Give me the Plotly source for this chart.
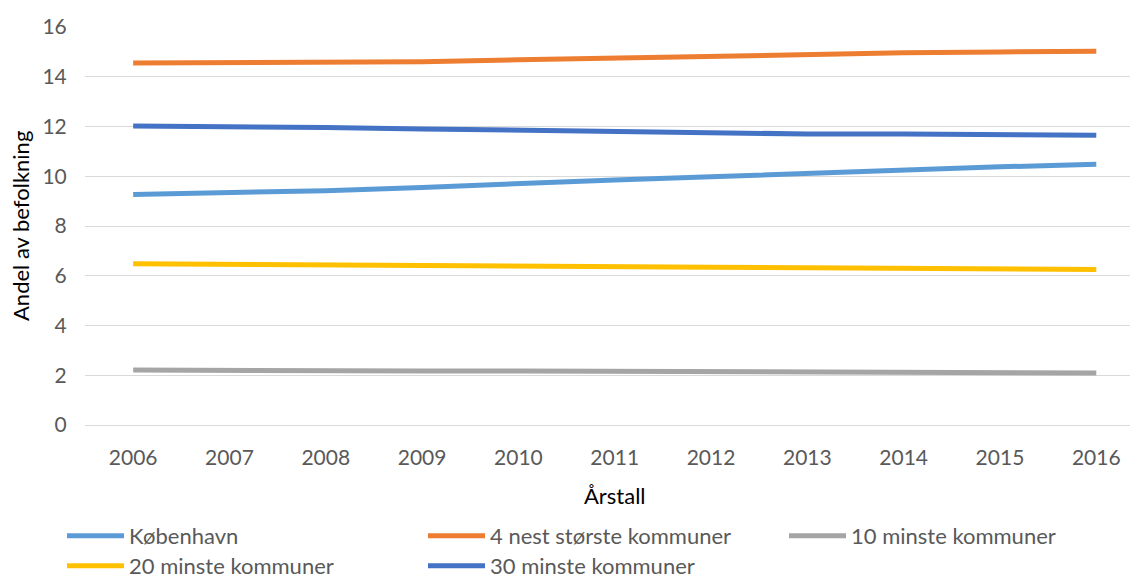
import plotly.graph_objects as go

years = [2006, 2007, 2008, 2009, 2010, 2011, 2012, 2013, 2014, 2015, 2016]
kobenhavn = [9.27, 9.33, 9.42, 9.55, 9.72, 9.85, 9.98, 10.12, 10.25, 10.38, 10.48]
nest_storste4 = [14.55, 14.55, 14.55, 14.60, 14.68, 14.75, 14.83, 14.93, 14.96, 15.00, 15.03]
minste10 = [2.21, 2.18, 2.17, 2.17, 2.17, 2.15, 2.14, 2.12, 2.10, 2.09, 2.09]
minste20 = [6.48, 6.45, 6.42, 6.41, 6.37, 6.36, 6.34, 6.32, 6.29, 6.28, 6.25]
minste30 = [12.02, 12.00, 11.96, 11.90, 11.85, 11.78, 11.75, 11.70, 11.70, 11.70, 11.65]

series = [
    ("København", kobenhavn, "#5B9BD5"),
    ("4 nest største kommuner", nest_storste4, "#ED7D31"),
    ("10 minste kommuner", minste10, "#A5A5A5"),
    ("20 minste kommuner", minste20, "#FFC000"),
    ("30 minste kommuner", minste30, "#4472C4"),
]
# legend slot (column, row) for each series
legend_slots = [(0, 0), (1, 0), (2, 0), (0, 1), (1, 1)]

FONT = "Lato"
W, H = 1130, 579
L, T, B = 85, 27, 154
COL_X = [62, 423, 784]
ROW_Y = [536, 566]

fig = go.Figure()
legends = {}
for i, ((name, vals, col), (c, r)) in enumerate(zip(series, legend_slots)):
    key = "legend" if i == 0 else f"legend{i + 1}"
    fig.add_trace(go.Scatter(x=years, y=vals, name=name, mode="lines",
                             line=dict(color=col, width=5), legend=key))
    legends[key] = dict(orientation="h", xref="container", yref="container",
                        x=COL_X[c] / W, y=1 - ROW_Y[r] / H,
                        xanchor="left", yanchor="middle",
                        itemwidth=57, bgcolor="rgba(0,0,0,0)",
                        font=dict(family=FONT, size=22, color="#595959"))

fig.update_layout(
    width=W, height=H,
    margin=dict(l=L, r=0, t=T, b=B, pad=0, autoexpand=False),
    paper_bgcolor="white", plot_bgcolor="white",
    font=dict(family=FONT, size=22, color="#595959"),
    showlegend=True,
    xaxis=dict(range=[2005.5, 2016.35], tickmode="array", tickvals=years,
               ticktext=[str(y) for y in years], showgrid=False, zeroline=False,
               showline=False, ticks="outside", ticklen=14, tickcolor="rgba(0,0,0,0)",
               automargin=False,
               tickfont=dict(family=FONT, size=21, color="#595959")),
    yaxis=dict(range=[0, 16], dtick=2, showgrid=True, gridcolor="#D9D9D9", gridwidth=1.3,
               zeroline=True, zerolinecolor="#D9D9D9", zerolinewidth=1.3,
               ticks="outside", ticklen=13, tickcolor="rgba(0,0,0,0)",
               automargin=False,
               tickfont=dict(family=FONT, size=21, color="#595959")),
    annotations=[
        dict(text="Årstall", xref="paper", yref="paper",
             x=(615 - L) / (W - L), y=(425 - 495) / (425 - T),
             xanchor="center", yanchor="middle", showarrow=False,
             font=dict(family=FONT, size=22, color="#000000")),
        dict(text="Andel av befolkning", xref="paper", yref="paper",
             x=(20 - L) / (W - L), y=0.5, textangle=-90,
             xanchor="center", yanchor="middle", showarrow=False,
             font=dict(family=FONT, size=22, color="#000000")),
    ],
)
fig.update_layout(**legends)

fig.write_html("out.html", config={"displayModeBar": False},
               post_script="document.body.style.margin='0';")
